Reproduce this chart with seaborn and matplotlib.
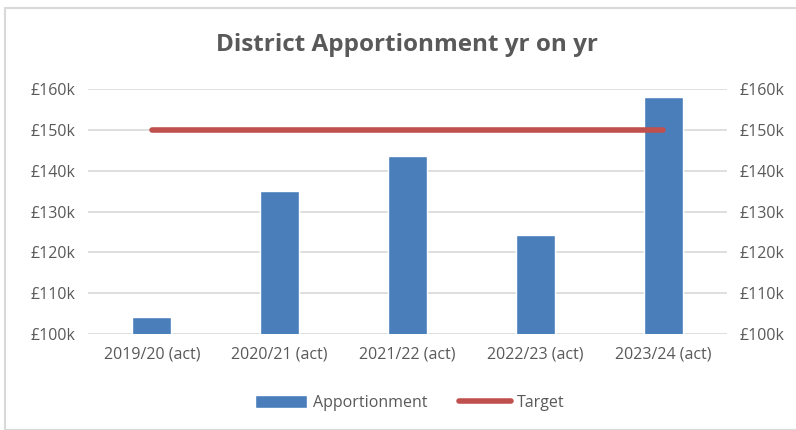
import matplotlib
matplotlib.use('Agg')
import matplotlib.pyplot as plt
import seaborn as sns
import pandas as pd
from matplotlib.patches import Rectangle
from matplotlib.ticker import FuncFormatter

years = ['2019/20 (act)', '2020/21 (act)', '2021/22 (act)', '2022/23 (act)', '2023/24 (act)']
apportionment = [104.1, 134.9, 143.5, 124.3, 158.0]
target = [150, 150, 150, 150, 150]

bar_color = '#4a7ebb'
line_color = '#c0504d'
text_color = '#595959'

sns.set_style('white')
plt.rcParams['font.family'] = ['Open Sans', 'DejaVu Sans']

df = pd.DataFrame({'year': years, 'apportionment': apportionment, 'target': target})

fig = plt.figure(figsize=(7.96, 4.30), dpi=100)
ax = fig.add_axes([88/796, 1-334/430, (727-88)/796, (334-89)/430])

sns.barplot(data=df, x='year', y='apportionment', color=bar_color, width=0.305,
            saturation=1, ax=ax, label='Apportionment', zorder=3)
sns.lineplot(x=range(len(years)), y=df['target'], color=line_color, linewidth=4,
             solid_capstyle='round', ax=ax, label='Target', zorder=4)

ax.set_ylim(100, 160)
ax.set_xlim(-0.5, len(years) - 0.5)
ax.set_yticks(range(100, 161, 10))
fmt = FuncFormatter(lambda v, p: '£{:d}k'.format(int(v)))
ax.yaxis.set_major_formatter(fmt)
ax.grid(axis='y', color='#d9d9d9', linewidth=1.2, zorder=0)
ax.set_axisbelow(True)
for s in ax.spines.values():
    s.set_visible(False)
ax.set_xlabel('')
ax.set_ylabel('')
ax.tick_params(axis='both', length=0, labelsize=11.5, colors=text_color, pad=9)

ax2 = ax.twinx()
ax2.set_ylim(100, 160)
ax2.set_yticks(range(100, 161, 10))
ax2.yaxis.set_major_formatter(fmt)
for s in ax2.spines.values():
    s.set_visible(False)
ax2.tick_params(axis='y', length=0, labelsize=11.5, colors=text_color, pad=9)

if ax.legend_:
    ax.legend_.remove()
handles, labels = ax.get_legend_handles_labels()
order = [labels.index('Apportionment'), labels.index('Target')]
fig.legend([handles[i] for i in order], [labels[i] for i in order],
           loc='center', bbox_to_anchor=(410/796, 1-403/430), ncol=2,
           frameon=False, fontsize=11.5, labelcolor=text_color, handlelength=3.2,
           handleheight=0.9, columnspacing=2.0, handletextpad=0.4)

fig.text(407/796, 1-45/430, 'District Apportionment yr on yr', ha='center', va='center',
         fontsize=17.5, fontweight='bold', color=text_color)

fig.patches.append(Rectangle((5/796, 0.0), 1.0, 1-8/430, transform=fig.transFigure,
                             fill=False, edgecolor='#d9d9d9', linewidth=1.5))

fig.savefig('out.png', dpi=100)
